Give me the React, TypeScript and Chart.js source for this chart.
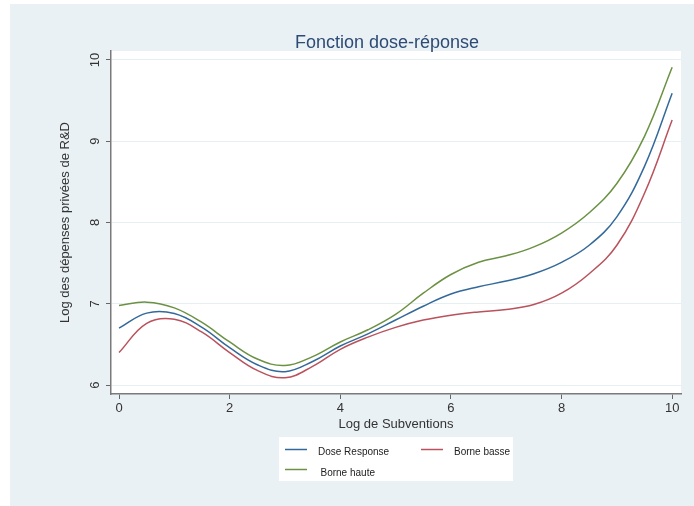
import { useEffect, useRef } from "react";
import { Chart, registerables } from "chart.js";

Chart.register(...registerables);

// ---- data ----
const xValues = [0, 0.5, 1, 1.5, 2, 2.5, 3, 3.5, 4, 4.5, 5, 5.5, 6, 6.5, 7, 7.5, 8, 8.5, 9, 9.5, 10];
const doseResponse = [6.7, 6.885, 6.88, 6.71, 6.46, 6.25, 6.165, 6.29, 6.48, 6.63, 6.8, 6.97, 7.12, 7.21, 7.28, 7.37, 7.51, 7.72, 8.07, 8.69, 9.59];
const borneBasse = [6.4, 6.76, 6.81, 6.65, 6.4, 6.18, 6.09, 6.23, 6.44, 6.59, 6.71, 6.8, 6.86, 6.9, 6.93, 6.99, 7.13, 7.37, 7.72, 8.36, 9.26];
const borneHaute = [6.98, 7.02, 6.95, 6.77, 6.53, 6.32, 6.24, 6.35, 6.53, 6.68, 6.87, 7.13, 7.36, 7.51, 7.59, 7.7, 7.87, 8.12, 8.48, 9.06, 9.91];
const seriesLabels = ["Dose Response", "Borne basse", "Borne haute"];
const chartTitle = "Fonction dose-réponse";
const xTitle = "Log de Subventions";
const yTitle = "Log des dépenses privées de R&D";
const xTickStep = 2;
const yTickStep = 1;

const COLORS = ["#33699a", "#b9525c", "#6b9143"];
const FONT = "'Liberation Sans', Arial, Helvetica, sans-serif";
const PANEL = "#eaf1f4";

const toPoints = (ys: number[]) => xValues.map((x, i) => ({ x, y: ys[i] }));

const backgroundPlugin = {
  id: "stataBackground",
  beforeDraw(chart: any) {
    const { ctx, chartArea, width, height } = chart;
    ctx.save();
    ctx.fillStyle = "#ffffff";
    ctx.fillRect(0, 0, width, height);
    ctx.fillStyle = PANEL;
    ctx.fillRect(10, 4, width - 10, height - 4);
    ctx.fillStyle = "#ffffff";
    ctx.fillRect(chartArea.left, chartArea.top, chartArea.right - chartArea.left, chartArea.bottom - chartArea.top);
    // title
    ctx.fillStyle = "#2d4b74";
    ctx.font = `18px ${FONT}`;
    ctx.textAlign = "center";
    ctx.textBaseline = "middle";
    ctx.fillText(chartTitle, 387, 43);
    ctx.restore();
  },
};

const legendPlugin = {
  id: "stataLegend",
  afterDraw(chart: any) {
    const { ctx } = chart;
    ctx.save();
    ctx.fillStyle = "#ffffff";
    ctx.fillRect(279, 437, 234, 44);
    const slots = [
      { lx: 285, ly: 449.5, tx: 318, ty: 452 },
      { lx: 421, ly: 449.5, tx: 454, ty: 452 },
      { lx: 285, ly: 469.5, tx: 320.5, ty: 473 },
    ];
    chart.data.datasets.forEach((ds: any, i: number) => {
      const s = slots[i];
      ctx.strokeStyle = ds.borderColor;
      ctx.lineWidth = 1.5;
      ctx.beginPath();
      ctx.moveTo(s.lx, s.ly);
      ctx.lineTo(s.lx + 22, s.ly);
      ctx.stroke();
      ctx.fillStyle = "#222222";
      ctx.font = `10px ${FONT}`;
      ctx.textAlign = "left";
      ctx.textBaseline = "middle";
      ctx.fillText(ds.label, s.tx, s.ty);
    });
    ctx.restore();
  },
};

export default function App() {
  const ref = useRef<HTMLCanvasElement>(null);

  useEffect(() => {
    document.body.style.margin = "0";
    if (!ref.current) return;
    Chart.defaults.font.family = FONT;
    const chart = new Chart(ref.current, {
      type: "line",
      data: {
        datasets: [doseResponse, borneBasse, borneHaute].map((ys, i) => ({
          label: seriesLabels[i],
          data: toPoints(ys),
          borderColor: COLORS[i],
          backgroundColor: COLORS[i],
          borderWidth: 1.5,
          pointRadius: 0,
          tension: 0.4,
          fill: false,
        })),
      },
      options: {
        animation: false,
        responsive: false,
        layout: { padding: { left: 0, right: 13, top: 51, bottom: 0 } },
        plugins: {
          legend: { display: false },
          title: { display: false },
          tooltip: { enabled: false },
        },
        scales: {
          x: {
            type: "linear",
            min: -0.145,
            max: 10.16,
            afterFit: (s: any) => {
              s.height = 112;
            },
            ticks: {
              stepSize: xTickStep,
              includeBounds: false,
              color: "#333333",
              font: { size: 13, family: FONT },
              padding: 2,
              maxRotation: 0,
            },
            grid: {
              drawOnChartArea: false,
              drawTicks: true,
              tickLength: 5,
              tickColor: "#666666",
            },
            border: { display: true, color: "#7a7a7a", width: 1.5 },
            title: {
              display: true,
              text: xTitle,
              color: "#333333",
              font: { size: 13, family: FONT },
              padding: { top: 0, bottom: 74 },
            },
          },
          y: {
            type: "linear",
            min: 5.89,
            max: 10.11,
            afterFit: (s: any) => {
              s.width = 111;
            },
            ticks: {
              stepSize: yTickStep,
              includeBounds: false,
              color: "#333333",
              font: { size: 13, family: FONT },
              padding: 3,
              minRotation: 90,
              maxRotation: 90,
              crossAlign: "center",
            },
            grid: {
              color: "#e6eff1",
              lineWidth: 1,
              drawTicks: true,
              tickLength: 5,
              tickColor: "#666666",
            },
            border: { display: true, color: "#7a7a7a", width: 1.5 },
            title: {
              display: true,
              text: yTitle,
              color: "#333333",
              font: { size: 13, family: FONT },
              padding: { top: 58, bottom: 0 },
            },
          },
        },
      },
      plugins: [backgroundPlugin, legendPlugin],
    } as any);
    return () => chart.destroy();
  }, []);

  return (
    <div style={{ width: 694, height: 506 }}>
      <canvas ref={ref} width={694} height={506} style={{ display: "block" }} />
    </div>
  );
}
